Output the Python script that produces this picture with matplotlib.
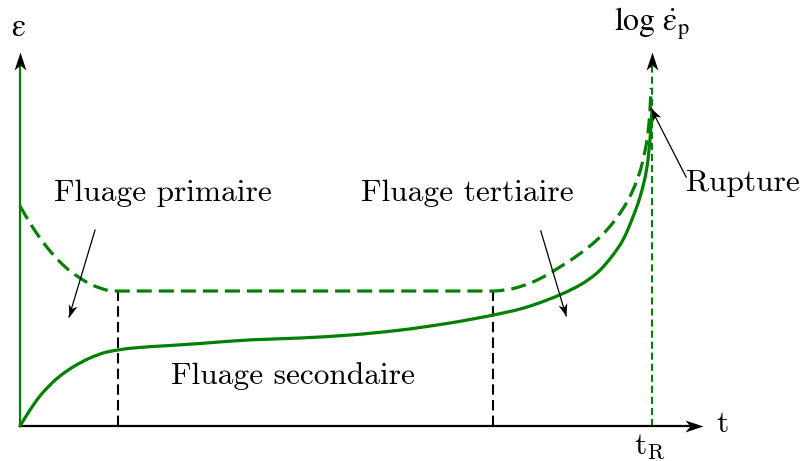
import numpy as np
import matplotlib
matplotlib.use("Agg")
import matplotlib.pyplot as plt
from matplotlib.path import Path
from matplotlib.patches import PathPatch
from matplotlib.markers import MarkerStyle
from matplotlib.transforms import Affine2D

plt.rcParams['mathtext.fontset'] = 'cm'

# ---- data (t in % of rupture time, strain / rate in arbitrary units) ----
t_strain = [0, 1.58, 3.16, 4.75, 6.33, 8.39, 11.08, 13.77, 17.88, 23.73, 28.48,
            36.39, 44.30, 52.22, 60.13, 68.04, 74.84, 79.11, 83.39, 88.61,
            91.30, 93.83, 95.41, 96.99, 98.10, 99.21, 99.68, 100.0]
strain = [0, 4.26, 7.98, 10.90, 13.30, 15.69, 18.09, 19.68, 20.74, 21.41, 21.94,
          22.9, 23.4, 24.2, 25.5, 27.4, 29.5, 31.1, 33.5, 37.5,
          40.7, 45.5, 49.5, 55.6, 60.9, 68.9, 76.1, 84.0]

t_rate = [0, 1.58, 3.16, 4.75, 6.33, 7.91, 9.49, 11.08, 12.66, 13.92, 15.51,
          74.84, 77.53, 80.70, 85.92, 91.30, 94.94, 97.63, 99.21, 99.68, 99.84]
log_rate = [58.51, 53.99, 50.0, 46.54, 43.62, 41.22, 39.36, 37.77, 36.70, 36.09, 35.9,
            35.9, 36.4, 38.0, 42.8, 49.5, 56.6, 65.4, 76.1, 84.0, 89.9]

t_primary_end = 15.51
t_secondary_end = 74.84
t_rupture = 100.0
level_secondary = 35.9

stage_labels = ["Fluage primaire", "Fluage secondaire", "Fluage tertiaire"]

GREEN = '#008000'
W, H = 805, 461
fig = plt.figure(figsize=(W / 100, H / 100), dpi=100)
ax = fig.add_axes([0, 0, 1, 1])
ax.set_xlim(-20 / 6.32, 785 / 6.32)
ax.set_ylim(-35 / 3.76, 426 / 3.76)
ax.axis('off')


def smooth_path(x, y):
    """Monotone cubic (Fritsch-Carlson) Bezier path through the data points."""
    x = np.asarray(x, float)
    y = np.asarray(y, float)
    h = np.diff(x)
    d = np.diff(y) / h
    n = len(x)
    m = np.zeros(n)
    m[0], m[-1] = d[0], d[-1]
    for i in range(1, n - 1):
        if d[i - 1] * d[i] > 0:
            w1 = 2 * h[i] + h[i - 1]
            w2 = h[i] + 2 * h[i - 1]
            m[i] = (w1 + w2) / (w1 / d[i - 1] + w2 / d[i])
    verts = [(x[0], y[0])]
    codes = [Path.MOVETO]
    for i in range(n - 1):
        verts += [(x[i] + h[i] / 3, y[i] + m[i] * h[i] / 3),
                  (x[i + 1] - h[i] / 3, y[i + 1] - m[i + 1] * h[i] / 3),
                  (x[i + 1], y[i + 1])]
        codes += [Path.CURVE4] * 3
    return Path(verts, codes)


def head(x, y, dx, dy, size, color='k', ratio=0.33):
    p0 = ax.transData.transform((x - dx, y - dy))
    p1 = ax.transData.transform((x, y))
    ang = np.degrees(np.arctan2(p1[1] - p0[1], p1[0] - p0[0]))
    verts = [(0, 0), (-2, 2 * ratio), (-1.45, 0), (-2, -2 * ratio), (0, 0)]
    codes = [Path.MOVETO, Path.LINETO, Path.LINETO, Path.LINETO, Path.CLOSEPOLY]
    m = MarkerStyle(Path(verts, codes), transform=Affine2D().rotate_deg(ang))
    ax.plot([x], [y], marker=m, markersize=size, color=color, mew=0,
            ls='none', zorder=6)


# axes
y_top = 99.5
x_tip = 108.1
ax.plot([0, 0], [0, y_top - 3], color=GREEN, lw=1.6, zorder=3)
head(0, y_top, 0, 1, 26)
ax.plot([0, x_tip - 1.5], [0, 0], color='k', lw=1.6, zorder=4)
head(x_tip, 0, 1, 0, 26)
ax.plot([t_rupture, t_rupture], [0, y_top - 3], color=GREEN, lw=1.5,
        dashes=(3.4, 1.9), zorder=3)
head(t_rupture, y_top, 0, 1, 26)

# curves
ax.add_patch(PathPatch(smooth_path(t_strain, strain), fill=False,
                       edgecolor=GREEN, lw=2.3, capstyle='round', zorder=5))
ax.add_patch(PathPatch(smooth_path(t_rate, log_rate), fill=False,
                       edgecolor=GREEN, lw=2.3, linestyle=(0, (4.7, 2.2)),
                       zorder=5))

# stage boundaries
for tb in (t_primary_end, t_secondary_end):
    ax.plot([tb, tb], [0, level_secondary], color='k', lw=1.5,
            dashes=(5, 2.5), zorder=4)

FS = 22.6
serif = dict(family='cmr10', fontsize=FS, color='k')
ax.text(-0.3, 106.1, r'$\mathrm{\varepsilon}$', ha='center', va='center',
        fontsize=23, math_fontfamily='stix')
ax.text(100.0, 107.0, r'$\mathrm{log}\ \dot{\mathrm{\varepsilon}}_{\mathrm{p}}$',
        ha='center', va='center', fontsize=23, math_fontfamily='stix')
ax.text(111.1, 0.6, r'$\mathrm{t}$', ha='center', va='center', fontsize=FS)
ax.text(99.7, -5.5, r'$\mathrm{t}_{\mathrm{R}}$', ha='center', va='center',
        fontsize=FS)

ax.text(22.6, 62.0, stage_labels[0], ha='center', va='center', **serif)
ax.text(43.2, 13.3, stage_labels[1], ha='center', va='center', **serif)
ax.text(70.7, 62.0, stage_labels[2], ha='center', va='center', **serif)
ax.text(105.4, 64.6, "Rupture", ha='left', va='center', **serif)

# pointer arrows
for (x0, y0, x1, y1) in [(11.87, 52.1, 7.75, 29.0),
                         (82.4, 51.9, 86.4, 29.3),
                         (105.4, 66.2, 99.8, 84.6)]:
    ax.plot([x0, x1], [y0, y1], color='k', lw=0.9, zorder=6)
    head(x1, y1, x1 - x0, y1 - y0, 18, ratio=0.36)

fig.savefig('out.png', dpi=100)
